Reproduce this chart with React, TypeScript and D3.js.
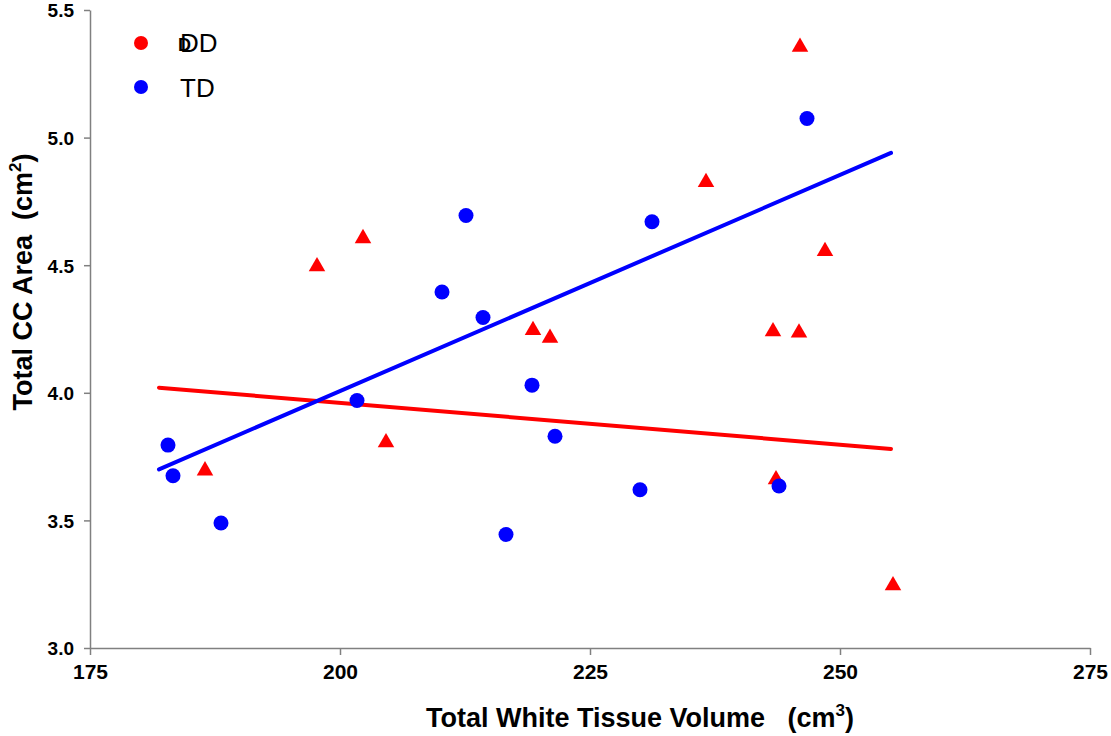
import React, { useEffect, useRef } from 'react'
import * as d3 from 'd3'

// DD group (triangles)
const ddVolume = [186.5, 204.6, 197.7, 202.3, 219.3, 221.0, 236.6, 248.5, 243.3, 245.9, 243.6, 246.0, 255.3]
const ddArea = [3.695, 3.805, 4.495, 4.605, 4.245, 4.215, 4.825, 4.555, 4.24, 4.235, 3.66, 5.355, 3.245]

// TD group (circles)
const tdVolume = [182.8, 183.3, 188.1, 201.7, 210.2, 212.6, 214.3, 219.2, 221.5, 216.6, 231.2, 230.0, 243.9, 246.7]
const tdArea = [3.795, 3.675, 3.49, 3.97, 4.395, 4.695, 4.295, 4.03, 3.83, 3.445, 4.67, 3.62, 3.635, 5.075]

// fitted trend lines (end points)
const fitVolume = [181.9, 255.1]
const ddFit = [4.02, 3.78]
const tdFit = [3.70, 4.94]

const xTicks = [175, 200, 225, 250, 275]
const yTicks = [3.0, 3.5, 4.0, 4.5, 5.0, 5.5]

const RED = '#FF0000'
const BLUE = '#0000FF'
const FONT = 'Arial, "Liberation Sans", sans-serif'

export default function App() {
    const svgRef = useRef<SVGSVGElement>(null)
    const width = 1111
    const height = 736

    useEffect(() => {
        const svg = d3.select(svgRef.current)
        svg.selectAll('*').remove()

        const x = d3.scaleLinear().domain([175, 275]).range([90, 1090])
        const y = d3.scaleLinear().domain([3.0, 5.5]).range([648, 10])

        // axes
        const xAxis = svg.append('g')
            .attr('transform', `translate(0,${ y(3.0) })`)
            .call(d3.axisBottom(x).tickValues(xTicks).tickSize(7).tickSizeOuter(0).tickPadding(9))
        const yAxis = svg.append('g')
            .attr('transform', `translate(${ x(175) },0)`)
            .call(d3.axisLeft(y).tickValues(yTicks).tickSize(6).tickSizeOuter(0).tickPadding(10).tickFormat(d3.format('.1f')))

        for (const ax of [xAxis, yAxis]) {
            ax.selectAll('path, line').attr('stroke', '#808080').attr('stroke-width', 1.5)
            ax.selectAll('text')
                .attr('fill', '#000')
                .attr('font-family', FONT)
                .attr('font-weight', 'bold')
        }
        xAxis.selectAll('text').attr('font-size', 21)
        yAxis.selectAll('text').attr('font-size', 19).attr('dy', '0.36em')

        // trend lines
        const line = d3.line<number>()
            .x((d, i) => x(fitVolume[i]))
            .y(d => y(d))

        svg.append('path')
            .attr('d', line(ddFit))
            .attr('fill', 'none')
            .attr('stroke', RED)
            .attr('stroke-width', 4)
            .attr('stroke-linecap', 'round')

        svg.append('path')
            .attr('d', line(tdFit))
            .attr('fill', 'none')
            .attr('stroke', BLUE)
            .attr('stroke-width', 4)
            .attr('stroke-linecap', 'round')

        // DD triangles
        const tri = d3.symbol().type(d3.symbolTriangle).size(118)
        svg.append('g')
            .selectAll('path')
            .data(ddVolume.map((v, i) => [v, ddArea[i]]))
            .join('path')
            .attr('d', tri)
            .attr('transform', d => `translate(${ x(d[0]) },${ y(d[1]) })`)
            .attr('fill', RED)

        // TD circles
        svg.append('g')
            .selectAll('circle')
            .data(tdVolume.map((v, i) => [v, tdArea[i]]))
            .join('circle')
            .attr('cx', d => x(d[0]))
            .attr('cy', d => y(d[1]))
            .attr('r', 7.5)
            .attr('fill', BLUE)

        // legend
        const legend = svg.append('g').attr('font-family', FONT)
        legend.append('circle').attr('cx', 141).attr('cy', 43).attr('r', 7).attr('fill', RED)
        legend.append('circle').attr('cx', 141).attr('cy', 87).attr('r', 7).attr('fill', BLUE)
        legend.append('text').attr('x', 178).attr('y', 51).attr('font-size', 18).attr('font-weight', 'bold').text('D')
        legend.append('text').attr('x', 180).attr('y', 52).attr('font-size', 26).text('DD')
        legend.append('text').attr('x', 180).attr('y', 97).attr('font-size', 26).text('TD')

        // axis titles
        const xt = svg.append('text')
            .attr('x', 640)
            .attr('y', 727)
            .attr('text-anchor', 'middle')
            .attr('font-family', FONT)
            .attr('font-weight', 'bold')
            .attr('font-size', 27)
            .style('white-space', 'pre')
        xt.append('tspan').text('Total White Tissue Volume   (cm')
        xt.append('tspan').attr('dy', -11).attr('font-size', 17).text('3')
        xt.append('tspan').attr('dy', 11).text(')')

        const yt = svg.append('text')
            .attr('transform', 'translate(32,282) rotate(-90)')
            .attr('text-anchor', 'middle')
            .attr('font-family', FONT)
            .attr('font-weight', 'bold')
            .attr('font-size', 27)
            .style('white-space', 'pre')
        yt.append('tspan').text('Total CC Area  (cm')
        yt.append('tspan').attr('dy', -11).attr('font-size', 17).text('2')
        yt.append('tspan').attr('dy', 11).text(')')
    }, [])

    return (
        <svg ref={ svgRef } width={ width } height={ height }
             style={ { position: 'absolute', left: 0, top: 0, background: '#fff' } }/>
    )
}
